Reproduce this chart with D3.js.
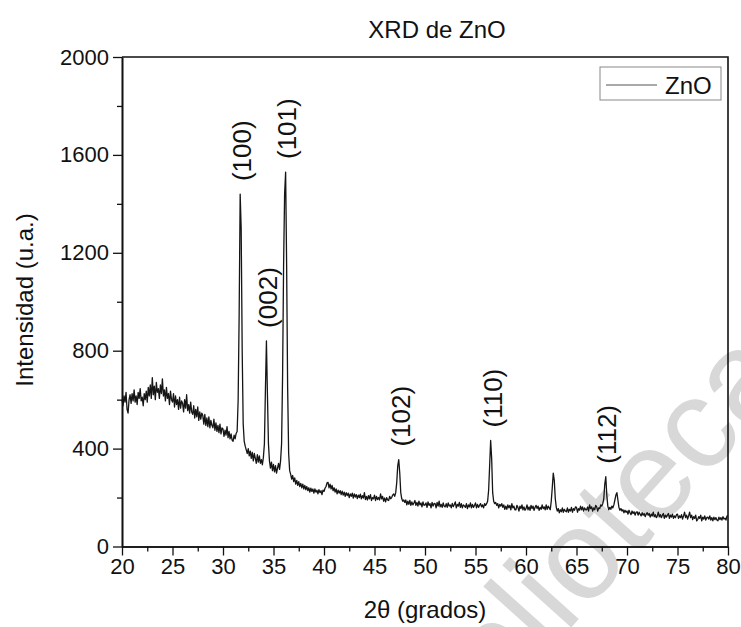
<!DOCTYPE html>
<html>
<head>
<meta charset="utf-8">
<script src="https://cdn.jsdelivr.net/npm/d3@7"></script>
<style>
  body { margin: 0; background: #fff; }
  svg { font-family: "Liberation Sans", Arial, sans-serif; }
</style>
</head>
<body>
<svg id="chart" width="741" height="627"></svg>
<script>
// scan from 20 to 80 deg, one reading every 0.1 deg
var scanStart = 20;
var scanStep = 0.1;
var intensity = [
  600,575,615,590,630,560,545,600,620,585,   // 20
  625,595,640,590,615,580,630,605,645,595,   // 21
  610,575,625,600,635,590,650,615,660,605,   // 22
  690,620,655,600,670,630,645,605,660,625,   // 23
  685,615,640,595,650,605,625,580,635,600,   // 24
  590,625,570,615,580,600,560,610,565,595,   // 25
  585,550,600,565,620,555,580,545,590,550,   // 26
  540,575,525,560,530,570,515,550,520,545,   // 27
  535,500,540,495,525,490,530,485,515,495,   // 28
  485,520,475,505,470,495,465,500,460,485,   // 29
  480,450,475,455,490,445,470,440,460,435,   // 30
  430,455,440,462,470,600,950,1440,1300,800, // 31
  500,430,410,395,380,400,370,390,360,385,   // 32
  350,380,360,340,375,345,370,340,355,334,   // 33
  365,420,640,840,620,420,350,320,345,310,   // 34
  335,305,330,300,320,340,315,350,420,700,   // 35
  1150,1440,1530,1150,650,380,310,295,275,290, // 36
  265,280,255,270,250,265,245,258,240,255,   // 37
  235,250,232,245,228,240,222,238,225,235,   // 38
  218,235,222,230,215,232,220,228,212,230,   // 39
  225,238,245,260,262,240,255,235,250,228,   // 40
  240,222,235,215,230,218,228,212,226,210,   // 41
  222,205,220,208,218,200,215,205,218,198,   // 42
  215,202,212,196,210,200,214,195,208,198,   // 43
  220,192,205,190,208,195,212,188,200,195,   // 44
  210,188,205,192,200,190,215,195,205,185,   // 45
  198,182,200,190,188,205,195,200,210,215,   // 46
  205,220,260,330,355,300,220,195,185,190,   // 47
  180,190,170,185,172,188,168,182,170,178,   // 48
  188,168,180,165,185,170,178,162,182,168,   // 49
  170,178,160,182,168,175,158,180,165,176,   // 50
  175,158,180,165,185,162,172,160,178,165,   // 51
  162,175,160,178,165,170,158,176,163,172,   // 52
  182,158,172,165,180,160,175,158,170,166,   // 53
  160,175,155,170,162,178,158,172,160,168,   // 54
  178,158,172,160,168,175,162,170,158,175,   // 55
  168,175,185,230,330,433,360,220,185,175,   // 56
  180,168,175,158,172,165,175,160,170,152,   // 57
  165,152,170,158,168,150,175,158,165,150,   // 58
  150,168,160,145,165,155,170,150,162,148,   // 59
  155,170,150,162,148,168,155,165,148,160,   // 60
  168,155,165,148,160,152,170,155,162,150,   // 61
  170,152,165,158,150,185,240,300,270,195,   // 62
  160,145,155,138,150,142,158,140,152,145,   // 63
  142,158,140,152,145,160,140,155,148,162,   // 64
  160,140,155,148,165,150,162,145,158,150,   // 65
  150,162,145,170,155,162,145,158,150,168,   // 66
  162,145,158,155,170,165,175,195,255,285,   // 67
  210,165,150,160,152,165,158,170,190,210,   // 68
  220,190,160,148,155,145,150,138,148,140,   // 69
  145,132,148,138,130,145,135,142,128,140,   // 70
  142,128,140,132,125,138,128,135,122,132,   // 71
  138,128,135,120,132,125,140,122,130,118,   // 72
  125,140,122,130,118,128,135,115,128,120,   // 73
  128,135,115,128,120,132,115,125,118,130,   // 74
  132,115,125,118,130,112,125,140,118,128,   // 75
  112,125,140,118,128,110,122,115,128,105,   // 76
  110,122,115,128,105,120,112,125,108,118,   // 77
  120,112,125,108,118,105,120,110,118,108,   // 78
  105,120,110,118,108,122,112,116,108,125,   // 79
  125                                        // 80
];

var peakNames = ["(100)", "(002)", "(101)", "(102)", "(110)", "(112)"];
var peakAngles = [31.75, 34.3, 36.22, 47.45, 56.55, 67.9];
var peakHeights = [1440, 840, 1530, 355, 433, 285];

var xTicks = [20, 25, 30, 35, 40, 45, 50, 55, 60, 65, 70, 75, 80];
var yTicks = [0, 400, 800, 1200, 1600, 2000];

var svg = d3.select("#chart");
var x = d3.scaleLinear().domain([20, 80]).range([122, 728]);
var y = d3.scaleLinear().domain([0, 2000]).range([546.5, 57]);

// watermark behind everything
svg.append("text")
  .attr("transform", "translate(794,380) rotate(-48)")
  .attr("text-anchor", "end")
  .attr("style", "font-size: 128px; fill: #d8d8d8;")
  .text("biblioteca");

svg.append("text")
  .attr("x", 437)
  .attr("y", 38)
  .attr("text-anchor", "middle")
  .attr("style", "font-size: 24px; fill: #111;")
  .text("XRD de ZnO");

var line = d3.line()
  .x(function(d, i) { return x(scanStart + i * scanStep); })
  .y(function(d) { return y(d); });

svg.append("path")
  .datum(intensity)
  .attr("d", line)
  .attr("style", "fill: none; stroke: #151515; stroke-width: 1.3; stroke-linejoin: round;");

// axes, major and minor ticks both outside
svg.append("g")
  .attr("transform", "translate(0," + y(0) + ")")
  .call(d3.axisBottom(x).tickValues(xTicks).tickSize(9).tickSizeOuter(0).tickPadding(3));
svg.append("g")
  .attr("transform", "translate(0," + y(0) + ")")
  .call(d3.axisBottom(x).tickValues(d3.range(22.5, 80, 5)).tickSize(5).tickSizeOuter(0).tickFormat(""));

svg.append("g")
  .attr("transform", "translate(" + x(20) + ",0)")
  .call(d3.axisLeft(y).tickValues(yTicks).tickSize(9).tickSizeOuter(0).tickPadding(4).tickFormat(d3.format("d")));
svg.append("g")
  .attr("transform", "translate(" + x(20) + ",0)")
  .call(d3.axisLeft(y).tickValues(d3.range(200, 2000, 400)).tickSize(5).tickSizeOuter(0).tickFormat(""));

svg.selectAll(".domain").attr("style", "stroke: #111; stroke-width: 1.6;");
svg.selectAll(".tick line").attr("style", "stroke: #111; stroke-width: 1.3;");
svg.selectAll(".tick text").attr("style", "font-size: 22px; fill: #111; font-family: 'Liberation Sans', Arial, sans-serif;");

// top and right frame
svg.append("path")
  .attr("d", "M" + x(20) + "," + y(2000) + "H" + x(80) + "V" + y(0))
  .attr("style", "fill: none; stroke: #111; stroke-width: 1.6;");

svg.append("text")
  .attr("x", 425)
  .attr("y", 618)
  .attr("text-anchor", "middle")
  .attr("style", "font-size: 24px; fill: #111;")
  .text("2θ (grados)");

svg.append("text")
  .attr("transform", "translate(33,300) rotate(-90)")
  .attr("text-anchor", "middle")
  .attr("style", "font-size: 24px; fill: #111;")
  .text("Intensidad (u.a.)");

// peak labels
for (i = 0; i < peakNames.length; i++) {
  svg.append("text")
    .attr("transform", "translate(" + (x(peakAngles[i]) + 1) + "," + (y(peakHeights[i]) - 13) + ") rotate(-90)")
    .attr("dy", "0.36em")
    .attr("text-anchor", "start")
    .attr("style", "font-size: 26px; fill: #111;")
    .text(peakNames[i]);
}

// legend
var legend = svg.append("g");
legend.append("rect")
  .attr("x", 600).attr("y", 67).attr("width", 121).attr("height", 33)
  .attr("style", "fill: #fff; stroke: #888; stroke-width: 1;");
legend.append("line")
  .attr("x1", 606).attr("x2", 657).attr("y1", 85).attr("y2", 85)
  .attr("style", "stroke: #555; stroke-width: 1.2;");
legend.append("text")
  .attr("x", 665).attr("y", 94)
  .attr("style", "font-size: 24px; fill: #111;")
  .text("ZnO");
</script>
</body>
</html>
